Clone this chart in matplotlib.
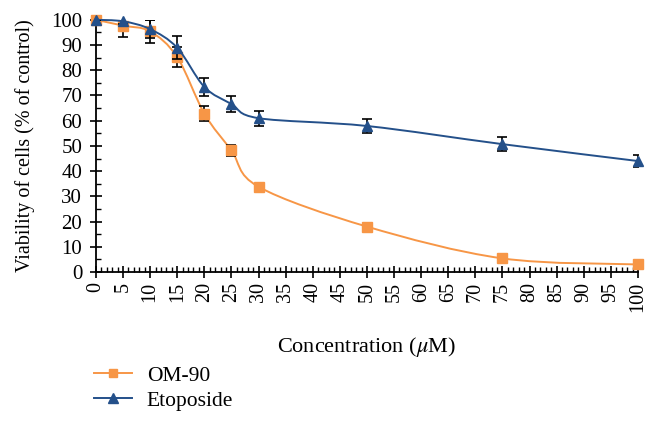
import numpy as np
import matplotlib
matplotlib.use("Agg")
import matplotlib.pyplot as plt
from matplotlib.path import Path
from matplotlib.patches import PathPatch
from matplotlib.lines import Line2D
from matplotlib.ticker import MultipleLocator

conc = [0, 5, 10, 15, 20, 25, 30, 50, 75, 100]
om90 = [100, 97.7, 95.4, 85.2, 62.8, 48.2, 33.8, 18.0, 5.4, 3.0]
om90_err = [0, 4.6, 4.6, 4.1, 3.0, 2.2, 0.8, 0.6, 0.5, 0.4]
etop = [100, 99.4, 96.3, 88.9, 73.4, 66.6, 61.0, 57.9, 50.7, 44.0]
etop_err = [0, 1.0, 3.5, 4.6, 3.7, 3.3, 3.0, 2.9, 2.7, 2.2]

names = ["OM-90", "Etoposide"]
colors = ["#F79646", "#24508A"]
markers = ["s", "^"]
msizes = [7.0, 7.5]

plt.rcParams['font.family'] = ['Liberation Serif', 'DejaVu Serif']
plt.rcParams['mathtext.fontset'] = 'stix'

fig = plt.figure(figsize=(6.57, 4.26), dpi=100)
ax = fig.add_axes([0.146, 0.3615, 0.825, 0.592])


def smooth_path(xs, ys):
    p = np.column_stack([xs, ys]).astype(float)
    n = len(p)
    verts = [p[0]]
    codes = [Path.MOVETO]
    for i in range(n - 1):
        p0 = p[i - 1] if i > 0 else p[i]
        p1 = p[i]
        p2 = p[i + 1]
        p3 = p[i + 2] if i + 2 < n else p[i + 1]
        c1 = p1 + (p2 - p0) / 6.0
        c2 = p2 - (p3 - p1) / 6.0
        verts += [c1, c2, p2]
        codes += [Path.CURVE4] * 3
    return Path(verts, codes)


for k, (ys, errs, c, m, ms) in enumerate(zip([om90, etop], [om90_err, etop_err],
                                             colors, markers, msizes)):
    base = 2 + 3 * k
    patch = PathPatch(smooth_path(conc, ys), facecolor='none', edgecolor=c,
                      lw=1.4, zorder=base, clip_on=False)
    ax.add_patch(patch)
    ax.errorbar(conc, ys, yerr=errs, fmt='none', ecolor='black', elinewidth=1.2,
                capsize=3.5, capthick=1.2, zorder=base + 1)
    ax.plot(conc, ys, linestyle='none', marker=m, color=c, markersize=ms,
            zorder=base + 2, clip_on=False)

ax.set_xlim(0, 100)
ax.set_ylim(0, 100)
for s in ['top', 'right']:
    ax.spines[s].set_visible(False)
for s in ['left', 'bottom']:
    ax.spines[s].set_linewidth(1.3)

ax.xaxis.set_major_locator(MultipleLocator(5))
ax.xaxis.set_minor_locator(MultipleLocator(1))
ax.yaxis.set_major_locator(MultipleLocator(10))
ax.yaxis.set_minor_locator(MultipleLocator(5))
ax.tick_params(axis='both', which='major', direction='inout', length=8.6, width=1.2)
ax.tick_params(axis='both', which='minor', direction='in', length=3.6, width=1.0)
ax.tick_params(axis='x', which='major', labelrotation=90, pad=3, labelsize=14.5)
ax.tick_params(axis='y', which='major', pad=5.5, labelsize=15)

ax.set_xlabel("Concentration ($\\mu$M)", fontsize=16)
ax.set_ylabel("Viability of cells (% of control)", fontsize=14.5)
ax.xaxis.set_label_coords(0.5, -0.25)
ax.yaxis.set_label_coords(-0.112, 0.5)

handles = [Line2D([0], [0], color=c, marker=m, markersize=ms * 0.9, lw=1.4)
           for c, m, ms in zip(colors, markers, msizes)]
fig.legend(handles, names, loc='upper left', bbox_to_anchor=(0.143, 0.142),
           frameon=False, fontsize=15.5, handlelength=1.75, handletextpad=0.7,
           labelspacing=0.25, borderpad=0, borderaxespad=0)

fig.savefig("out.png", dpi=100)
